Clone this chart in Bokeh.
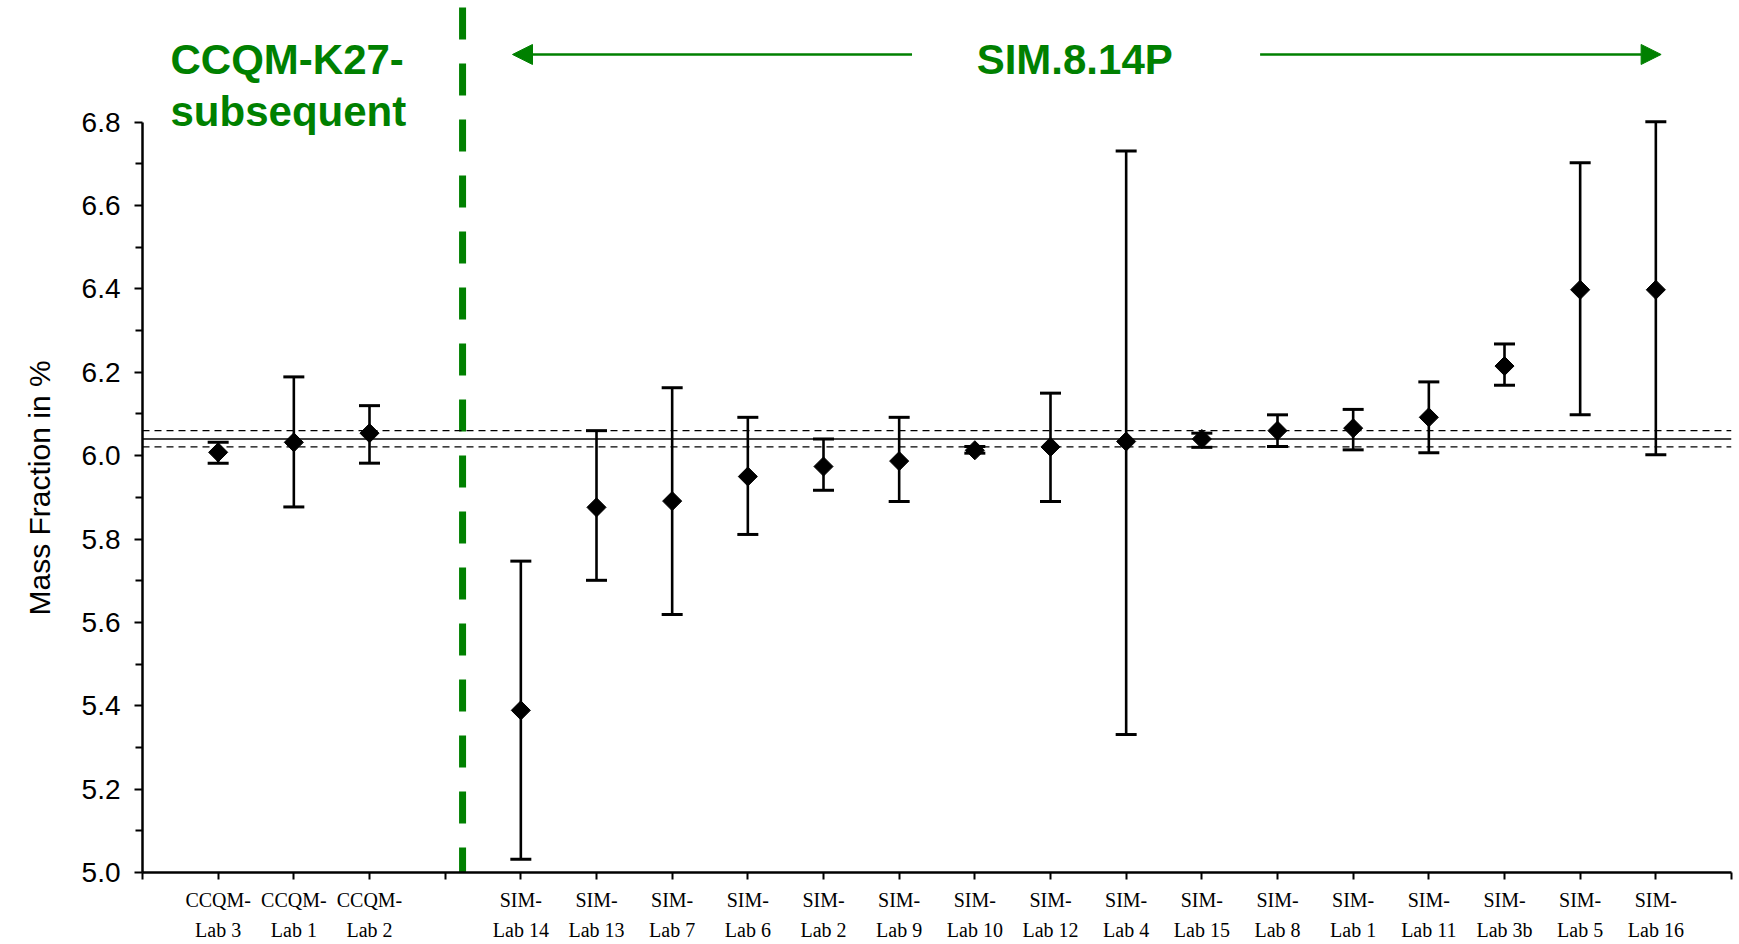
import math
from bokeh.plotting import figure
from bokeh.models import (Range1d, FixedTicker, Span, Label, Arrow, NormalHead,
                          ColumnDataSource, PrintfTickFormatter, Title)
from bokeh.embed import file_html
from bokeh.resources import INLINE

# ---------------- data ----------------
ccqm_labs = ["CCQM-Lab 3", "CCQM-Lab 1", "CCQM-Lab 2"]
ccqm_value = [6.008, 6.032, 6.054]
ccqm_upper = [6.032, 6.189, 6.120]
ccqm_lower = [5.982, 5.877, 5.982]

sim_labs = ["SIM-Lab 14", "SIM-Lab 13", "SIM-Lab 7", "SIM-Lab 6", "SIM-Lab 2",
            "SIM-Lab 9", "SIM-Lab 10", "SIM-Lab 12", "SIM-Lab 4", "SIM-Lab 15",
            "SIM-Lab 8", "SIM-Lab 1", "SIM-Lab 11", "SIM-Lab 3b", "SIM-Lab 5",
            "SIM-Lab 16"]
sim_value = [5.389, 5.876, 5.891, 5.950, 5.974, 5.987, 6.013, 6.021, 6.034,
             6.040, 6.060, 6.066, 6.092, 6.215, 6.398, 6.398]
sim_upper = [5.747, 6.060, 6.163, 6.092, 6.040, 6.092, 6.022, 6.150, 6.731,
             6.054, 6.098, 6.111, 6.177, 6.268, 6.703, 6.801]
sim_lower = [5.032, 5.701, 5.619, 5.811, 5.917, 5.890, 6.006, 5.890, 5.331,
             6.020, 6.022, 6.014, 6.007, 6.169, 6.098, 6.002]

ref_value = 6.040
ref_upper = 6.060
ref_lower = 6.021

y_ticks = [5.0, 5.2, 5.4, 5.6, 5.8, 6.0, 6.2, 6.4, 6.6, 6.8]
y_minor = [5.1, 5.3, 5.5, 5.7, 5.9, 6.1, 6.3, 6.5, 6.7]

# ---------------- layout helpers ----------------
n_ccqm = len(ccqm_labs)
gap = 1
ccqm_x = [i + 1 for i in range(n_ccqm)]
sim_x = [n_ccqm + gap + i + 1 for i in range(len(sim_labs))]
x_end = sim_x[-1] + 1
separator_x = n_ccqm + 1.23

labels = ccqm_labs + sim_labs
xs = ccqm_x + sim_x
vals = ccqm_value + sim_value
ups = ccqm_upper + sim_upper
los = ccqm_lower + sim_lower

src = ColumnDataSource(dict(x=xs, v=vals, up=ups, lo=los))

GREEN = "#008000"

p = figure(width=1739, height=944, x_range=Range1d(0, x_end),
           y_range=Range1d(5.0, 7.092), output_backend="svg",
           toolbar_location=None, min_border_left=142, min_border_right=8,
           min_border_top=0, min_border_bottom=72)
p.xgrid.visible = False
p.ygrid.visible = False
p.outline_line_color = None
p.background_fill_color = "white"
p.border_fill_color = "white"

# reference value lines
p.add_layout(Span(location=ref_value, dimension="width", line_color="black", line_width=1.3))
p.add_layout(Span(location=ref_upper, dimension="width", line_color="black",
                  line_width=1.2, line_dash="7 5"))
p.add_layout(Span(location=ref_lower, dimension="width", line_color="black",
                  line_width=1.2, line_dash="7 5"))

# separator
p.segment(x0=[separator_x], y0=[7.075], x1=[separator_x], y1=[4.98],
          line_color=GREEN, line_width=7, line_dash="32 24")

# error bars
p.segment(x0="x", y0="lo", x1="x", y1="up", source=src, line_color="black", line_width=2.6)
p.scatter(x="x", y="up", source=src, marker="dash", size=21, line_width=3, line_color="black")
p.scatter(x="x", y="lo", source=src, marker="dash", size=21, line_width=3, line_color="black")
p.scatter(x="x", y="v", source=src, marker="square", angle=math.pi / 4, size=13.5,
          fill_color="black", line_color="black")

# y axis
ya = p.yaxis[0]
ya.ticker = FixedTicker(ticks=y_ticks, minor_ticks=y_minor)
ya.formatter = PrintfTickFormatter(format="%.1f")
ya.bounds = (5.0, 6.8)
ya.axis_line_width = 2.5
ya.major_tick_in = 0
ya.major_tick_out = 8
ya.minor_tick_in = 0
ya.minor_tick_out = 7
ya.major_tick_line_width = 2
ya.minor_tick_line_width = 2
ya.major_label_text_font = "Liberation Sans"
ya.major_label_text_font_size = "28px"
ya.major_label_text_color = "black"
ya.major_label_standoff = 14

# y axis title as a left-side title, placed where the original sits
p.add_layout(Title(text="Mass Fraction in %", align="left", vertical_align="top",
                   offset=257, standoff=42,
                   text_font="Liberation Sans", text_font_size="30px",
                   text_font_style="normal", text_color="black"), "left")

# x axis
xa = p.xaxis[0]
xa.ticker = FixedTicker(ticks=list(range(0, x_end + 1)))
xa.bounds = (0, x_end)
overrides = {t: "" for t in range(0, x_end + 1)}
for xv, lab in zip(xs, labels):
    overrides[xv] = lab.replace("-", "-\n", 1)
xa.major_label_overrides = overrides
xa.axis_line_width = 2.5
xa.major_tick_in = 0
xa.major_tick_out = 7
xa.major_tick_line_width = 2
xa.minor_tick_line_color = None
xa.major_label_text_font = "Liberation Serif"
xa.major_label_text_font_size = "20px"
xa.major_label_text_color = "black"
xa.major_label_text_line_height = 1.4
xa.major_label_standoff = 9

# titles
common = dict(text_font="Liberation Sans", text_font_size="42px", text_font_style="bold",
              text_color=GREEN, text_baseline="alphabetic")
p.add_layout(Label(x=0.37, y=6.950, text="CCQM-K27-", text_align="left", **common))
p.add_layout(Label(x=0.37, y=6.826, text="subsequent", text_align="left", **common))
p.add_layout(Label(x=12.32, y=6.950, text="SIM.8.14P", text_align="center", **common))

# arrows
p.add_layout(Arrow(x_start=10.17, y_start=6.9625, x_end=4.89, y_end=6.9625,
                   line_color=GREEN, line_width=2.5,
                   end=NormalHead(size=20, fill_color=GREEN, line_color=GREEN)))
p.add_layout(Arrow(x_start=14.77, y_start=6.9625, x_end=20.07, y_end=6.9625,
                   line_color=GREEN, line_width=2.5,
                   end=NormalHead(size=20, fill_color=GREEN, line_color=GREEN)))

open("out.html", "w").write(file_html(p, INLINE))
